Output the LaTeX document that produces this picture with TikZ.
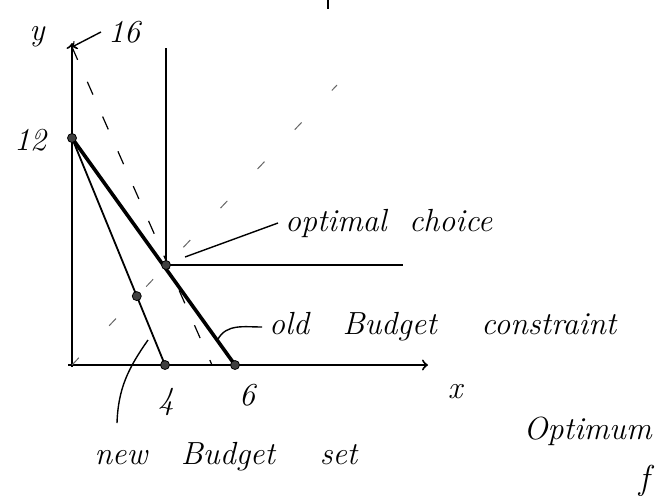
\documentclass[tikz,border=0pt]{standalone}
\usetikzlibrary{positioning}
\begin{document}
\begin{tikzpicture}[x=0.5pt,y=0.5pt,font=\fontsize{16}{19}\selectfont\itshape,
	dot/.style={circle,draw,fill=black!75,inner sep=0pt,minimum size=4.5pt},
	leader/.style={line width=0.7pt}]
	\clip (-72,-130) rectangle (584,365);
	% points of the diagram
	\coordinate (O) at (0,0);
	\coordinate (Y16) at (0,318);
	\coordinate (Y12) at (0,227);
	\coordinate (X4) at (93,0);
	\coordinate (X6) at (163,0);
	\coordinate (C) at (94,100);
	\coordinate (Xc) at (140,0);
	\coordinate (D) at (intersection of O--C and Y12--X4);
	% axes
	\draw[line width=1pt,->] (0,-2) -- (0,322);
	\draw[line width=1pt,->] (-4,0) -- (356,0);
	% ray through the optimum
	\draw[black!60,line width=0.5pt,dash pattern=on 5pt off 22pt] (O) -- (265,280);
	% compensated line
	\draw[line width=0.6pt,dash pattern=on 7pt off 12pt] (Y16) -- (Xc);
	% indifference curve
	\draw[line width=1pt] (94,317) -- (C) -- (331,100);
	% budget lines
	\draw[line width=1.8pt] (Y12) -- (X6);
	\draw[line width=0.9pt] (Y12) -- (X4);
	\foreach \p in {Y12,X4,X6,C,D}
		\node[dot] (d\p) at (\p) {};
	% labels
	\node (ylbl) at (-35,328) {y};
	\node (lbl16) at (52,333) {16};
	\draw[leader,->] (lbl16.west) -- (Y16);
	\node (lbl12) at (-42,225) {12};
	\node (lbl4) at (94,-37) {4};
	\node (lbl6) at (175,-30) {6};
	\node (xlbl) at (383,-27) {x};
	\node[anchor=west] (optlbl) at (206,142) {optimal\ \ choice};
	\coordinate (optTip) at (113,108);
	\draw[leader] (optlbl.west) -- (optTip);
	\node[anchor=west] (oldlbl) at (190,38) {old\ \ \ Budget\ \ \ \ constraint};
	\coordinate (oldTip) at (146,26);
	\draw[leader] (oldlbl.west) to[out=180,in=60] (oldTip);
	\node (newlbl) at (154,-92) {new\ \ \ Budget\ \ \ \ set};
	\coordinate (newFoot) at (45,-58);
	\coordinate (newTip) at (76,25);
	\draw[leader] (newFoot) to[out=88,in=235] (newTip);
	\node[anchor=east,inner sep=1pt] (optimlbl) at (582,-66) {Optimum};
	\node[font=\LARGE\itshape] (flbl) at (572,-116) {f};
	\draw[line width=1pt] (256,365) -- (256,356);
\end{tikzpicture}
\end{document}
